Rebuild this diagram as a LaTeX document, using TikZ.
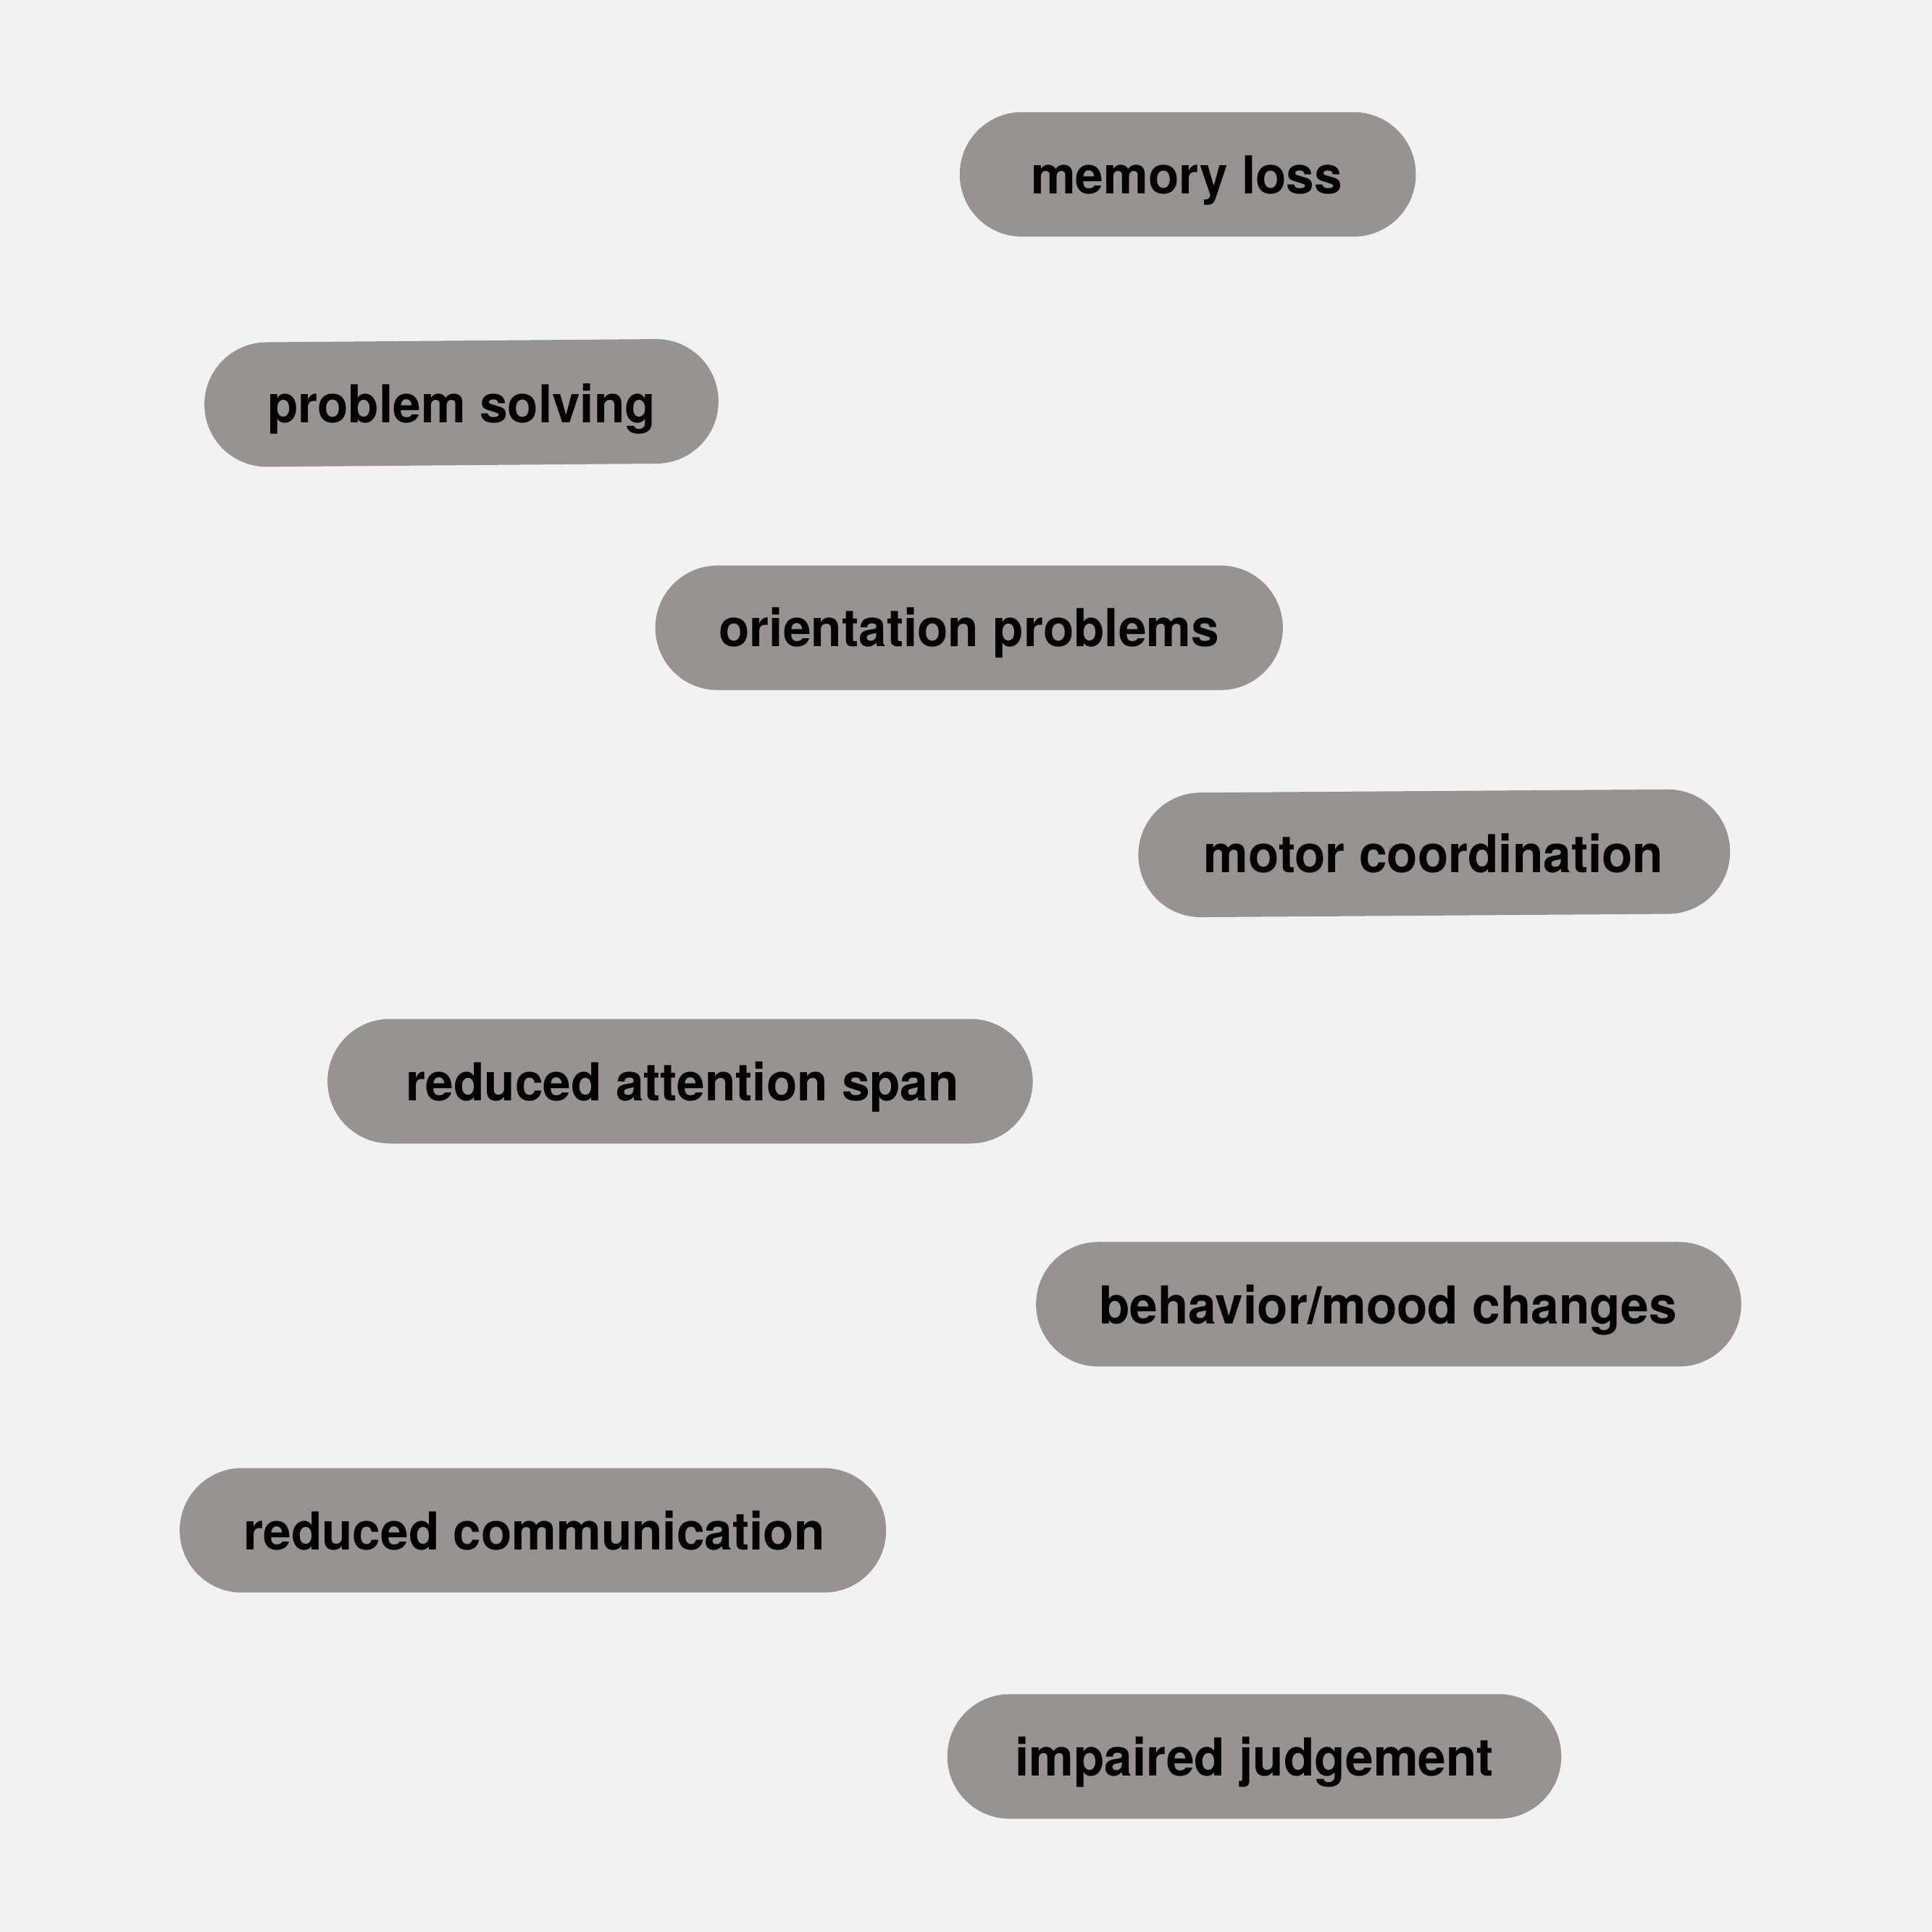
\documentclass[tikz,border=0pt]{standalone}
\usepackage{fontspec}
\usepackage{graphicx}
\setmainfont{TeX Gyre Heros}
\usetikzlibrary{shapes.misc}
\definecolor{bg}{HTML}{F2F2F2}
\definecolor{pillc}{HTML}{989291}
\newcommand{\tallt}[1]{\scalebox{1}[1.04]{#1}}
\tikzset{
  pill/.style={rounded rectangle, fill=pillc, draw=none, minimum height=1.01cm, inner sep=0pt},
  lbl/.style={anchor=base, inner sep=0pt, font=\fontsize{11.6}{13}\selectfont\bfseries, text=black}
}
\begin{document}
\begin{tikzpicture}[x=0.01cm,y=-0.01cm]
\fill[bg] (0,0) rectangle (1568,1568);
\useasboundingbox (0,0) rectangle (1568,1568);
% pills
\node[pill, minimum width=3.70cm] (p1) at (964,141.5) {};
\node[pill, minimum width=4.17cm, rotate=0.47] (p2) at (374.5,327) {};
\node[pill, minimum width=5.09cm] (p3) at (786.5,509.5) {};
\node[pill, minimum width=4.80cm, rotate=0.4] (p4) at (1164,692.5) {};
\node[pill, minimum width=5.72cm] (p5) at (552,877.5) {};
\node[pill, minimum width=5.72cm] (p6) at (1127,1058.5) {};
\node[pill, minimum width=5.73cm] (p7) at (432.5,1242) {};
\node[pill, minimum width=4.98cm] (p8) at (1018,1425.5) {};
% labels
\node[lbl] (t1) at (963,157.5) {\tallt{memory loss}};
\node[lbl] (t2) at (374.5,343) {\tallt{problem solving}};
\node[lbl] (t3) at (786.5,524.5) {\tallt{orientation problems}};
\node[lbl] (t4) at (1163.5,708) {\tallt{motor coordination}};
\node[lbl] (t5) at (554,893.5) {\tallt{reduced attention span}};
\node[lbl] (t6) at (1126.5,1074.5) {\tallt{behavior/mood changes}};
\node[lbl] (t7) at (433.5,1258) {\tallt{reduced communication}};
\node[lbl] (t8) at (1018,1441.5) {\tallt{impaired judgement}};
\end{tikzpicture}
\end{document}
